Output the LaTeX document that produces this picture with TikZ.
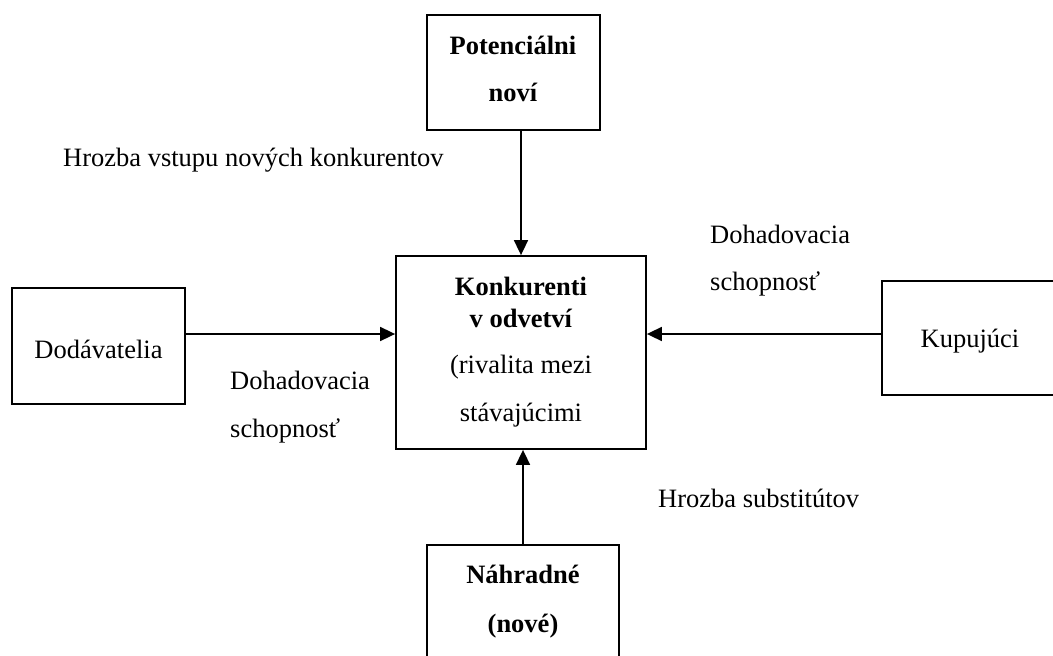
\documentclass[tikz,border=0pt]{standalone}
\usepackage{fontspec}
\setmainfont{Liberation Serif}
\usetikzlibrary{arrows.meta}
\begin{document}
\begin{tikzpicture}[x=1pt,y=-1pt,
  box/.style={draw, line width=1.8pt, inner sep=0pt},
  ln/.style={anchor=base, inner sep=0pt, font=\fontsize{26.5}{32}\selectfont},
  lbl/.style={anchor=base west, inner sep=0pt, font=\fontsize{26.5}{32}\selectfont},
  arr/.style={line width=1.7pt, -{Triangle[length=15pt,width=14pt]}}]
\useasboundingbox (0,0) rectangle (1053,656);
\clip (0,0) rectangle (1053,656);
% boxes
\node[box, minimum width=173pt, minimum height=115pt] (pot) at (513.5,72.5) {};
\node[box, minimum width=250pt, minimum height=193pt] (kon) at (521,352.5) {};
\node[box, minimum width=192pt, minimum height=155pt] (nah) at (523,622.5) {};
\node[box, minimum width=173pt, minimum height=116pt] (dod) at (98.5,346) {};
\node[box, minimum width=188pt, minimum height=114pt] (kup) at (976,338) {};
% box texts
\node[ln] (pot1) at (513,54) {\textbf{Potenciálni}};
\node[ln] (pot2) at (513,101) {\textbf{noví}};
\node[ln] (kon1) at (521,295) {\textbf{Konkurenti}};
\node[ln] (kon2) at (521,327) {\textbf{v odvetví}};
\node[ln] (kon3) at (521,373) {(rivalita mezi};
\node[ln] (kon4) at (521,421) {stávajúcimi};
\node[ln] (nah1) at (523,583) {\textbf{Náhradné}};
\node[ln] (nah2) at (523,632) {\textbf{(nové)}};
\node[ln] (dodt) at (98.5,358) {Dodávatelia};
\node[ln] (kupt) at (970,347) {Kupujúci};
% labels
\node[lbl] (lhv) at (63,166) {Hrozba vstupu nových konkurentov};
\node[lbl] (ld1) at (230,389) {Dohadovacia};
\node[lbl] (ld2) at (230,437) {schopnosť};
\node[lbl] (lk1) at (710,243) {Dohadovacia};
\node[lbl] (lk2) at (710,290) {schopnosť};
\node[lbl] (lhs) at (658,507) {Hrozba substitútov};
% connectors
\coordinate (ay) at (0,334);
\draw[arr] (pot.south -| kon.north) -- (kon.north);
\draw[arr] (nah.north) -- (kon.south -| nah.north);
\draw[arr] (dod.east |- ay) -- (kon.west |- ay);
\draw[arr] (kup.west |- ay) -- (kon.east |- ay);
\end{tikzpicture}
\end{document}
